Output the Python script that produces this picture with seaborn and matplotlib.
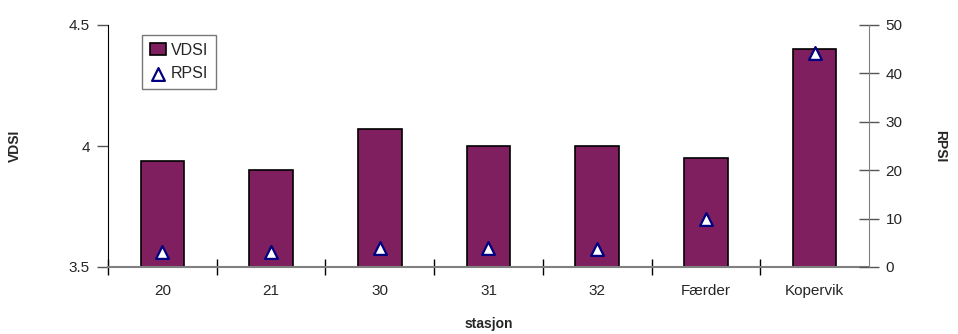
import numpy as np
import pandas as pd
import matplotlib
matplotlib.use("Agg")
from matplotlib import pyplot as plt
from matplotlib.ticker import FixedLocator
import seaborn as sns

stations = ["20", "21", "30", "31", "32", "Færder", "Kopervik"]
vdsi = [3.94, 3.90, 4.07, 4.00, 4.00, 3.95, 4.40]
rpsi = [3.0, 3.0, 4.0, 4.0, 3.8, 10.0, 44.3]

bar_color = "#7f1f5f"
tri_edge = "#000080"

sns.set_style("white")
plt.rcParams["font.family"] = ["Liberation Sans", "DejaVu Sans"]

df = pd.DataFrame({"stasjon": stations, "VDSI": vdsi, "RPSI": rpsi})

fig = plt.figure(figsize=(9.58, 3.34), dpi=100)
ax = fig.add_axes([108/958, 1-267/334, (869-108)/958, (267-25)/334])

sns.barplot(data=df, x="stasjon", y="VDSI", color=bar_color, width=0.4,
            edgecolor="black", linewidth=1.2, saturation=1, label="VDSI", ax=ax)
ax.set_ylim(3.5, 4.5)
ax.set_xlim(-0.5, 6.5)
ax.set_yticks([3.5, 4, 4.5])
ax.set_yticklabels(["3.5", "4", "4.5"])

ax2 = ax.twinx()
sns.scatterplot(data=df, x="stasjon", y="RPSI", marker="^", s=85, color="white",
                edgecolor=tri_edge, linewidth=1.6, label="RPSI", ax=ax2, zorder=5)
ax2.set_ylim(0, 50)
ax2.set_yticks([0, 10, 20, 30, 40, 50])
ax2.set_xlim(-0.5, 6.5)

# spines
for a in (ax, ax2):
    for s in a.spines.values():
        s.set_visible(False)
ax.spines["left"].set_visible(True)
ax.spines["left"].set_color("black")
ax.spines["bottom"].set_visible(True)
ax.spines["bottom"].set_color("#808080")
ax.spines["bottom"].set_linewidth(1.5)
ax2.spines["right"].set_visible(True)
ax2.spines["right"].set_color("#808080")

ax.tick_params(axis="y", which="major", direction="out", length=8, width=1, color="#555555",
               labelsize=11, pad=5, left=True)
ax2.tick_params(axis="y", which="major", direction="inout", length=14, width=1, color="#555555",
                labelsize=11, pad=5, right=True)
ax.tick_params(axis="x", which="major", length=0, labelsize=11, pad=12)
ax.xaxis.set_minor_locator(FixedLocator([-0.5, 0.5, 1.5, 2.5, 3.5, 4.5, 5.5]))
ax.tick_params(axis="x", which="minor", direction="inout", length=12, width=1, color="black", bottom=True)

ax.set_xlabel("stasjon", fontsize=10, fontweight="bold", labelpad=14)
ax.set_ylabel("VDSI", fontsize=10, fontweight="bold", labelpad=34)
ax2.set_ylabel("RPSI", fontsize=10, fontweight="bold", rotation=-90, labelpad=32)

h1, l1 = ax.get_legend_handles_labels()
h2, l2 = ax2.get_legend_handles_labels()
if ax2.get_legend() is not None:
    ax2.get_legend().remove()
if ax.get_legend() is not None:
    ax.get_legend().remove()
leg = ax2.legend(h1 + h2, l1 + l2, loc="upper left", bbox_to_anchor=(0.045, 0.96),
                 frameon=True, fancybox=False, edgecolor="#555555", fontsize=11.5,
                 handlelength=1.0, handleheight=0.7, handletextpad=0.3, borderpad=0.5,
                 labelspacing=0.55, borderaxespad=0)
leg.get_frame().set_linewidth(1)

fig.savefig("out.png", dpi=100)
